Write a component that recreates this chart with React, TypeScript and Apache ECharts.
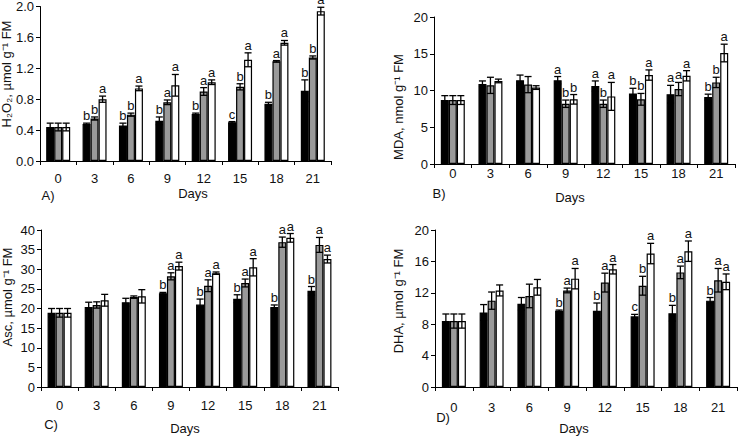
import React, { useEffect, useRef } from "react";
import * as echarts from "echarts";

// Sampling days (x categories shared by all four panels)
const days = ["0", "3", "6", "9", "12", "15", "18", "21"];

// A) H2O2, µmol g-1 FM
const h2o2Black = [0.44, 0.48, 0.46, 0.52, 0.61, 0.5, 0.74, 0.91];
const h2o2BlackErr = [0.05, 0.01, 0.03, 0.05, 0.01, 0.01, 0.02, 0.14];
const h2o2Gray = [0.44, 0.55, 0.6, 0.76, 0.9, 0.96, 1.29, 1.34];
const h2o2GrayErr = [0.05, 0.02, 0.02, 0.03, 0.05, 0.04, 0.01, 0.02];
const h2o2White = [0.44, 0.8, 0.94, 0.98, 1.02, 1.31, 1.53, 1.94];
const h2o2WhiteErr = [0.05, 0.04, 0.03, 0.14, 0.03, 0.09, 0.03, 0.05];
const h2o2BlackSig = ["", "b", "b", "b", "b", "c", "b", "b"];
const h2o2GraySig = ["", "b", "b", "a", "a", "b", "a", "b"];
const h2o2WhiteSig = ["", "a", "a", "a", "a", "a", "a", "a"];

// B) MDA, nmol g-1 FM
const mdaBlack = [8.7, 10.9, 11.4, 11.4, 10.6, 9.6, 9.5, 9.1];
const mdaBlackErr = [0.6, 0.4, 0.7, 0.5, 0.7, 0.7, 1.2, 0.4];
const mdaGray = [8.7, 10.7, 10.8, 8.2, 8.2, 8.8, 10.2, 11.1];
const mdaGrayErr = [0.6, 1.1, 1.1, 0.5, 0.5, 0.8, 0.9, 0.7];
const mdaWhite = [8.7, 11.3, 10.4, 8.8, 9.2, 12.1, 12.0, 15.1];
const mdaWhiteErr = [0.6, 0.25, 0.25, 0.65, 1.9, 0.7, 0.7, 1.2];
const mdaBlackSig = ["", "", "", "a", "a", "b", "a", "b"];
const mdaGraySig = ["", "", "", "b", "b", "b", "a", "b"];
const mdaWhiteSig = ["", "", "", "b", "a", "a", "a", "a"];

// C) Asc, µmol g-1 FM
const ascBlack = [18.9, 20.4, 21.6, 23.9, 21.0, 22.5, 20.4, 24.5];
const ascBlackErr = [1.1, 1.2, 1.0, 0.2, 1.4, 1.0, 0.5, 1.1];
const ascGray = [18.9, 20.9, 22.9, 28.2, 25.8, 26.5, 36.9, 36.2];
const ascGrayErr = [1.1, 0.8, 0.3, 0.9, 1.5, 1.0, 1.3, 1.9];
const ascWhite = [18.9, 22.1, 23.1, 30.8, 29.0, 30.5, 38.0, 32.6];
const ascWhiteErr = [1.1, 1.5, 1.7, 1.0, 0.3, 2.2, 1.1, 1.0];
const ascBlackSig = ["", "", "", "b", "b", "b", "b", "b"];
const ascGraySig = ["", "", "", "a", "a", "a", "a", "a"];
const ascWhiteSig = ["", "", "", "a", "a", "a", "a", "a"];

// D) DHA, µmol g-1 FM
const dhaBlack = [8.4, 9.5, 10.6, 9.7, 9.7, 9.0, 9.4, 11.0];
const dhaBlackErr = [0.9, 1.0, 0.8, 0.1, 1.0, 0.25, 1.0, 0.4];
const dhaGray = [8.4, 11.0, 11.6, 12.3, 13.3, 12.9, 14.6, 13.6];
const dhaGrayErr = [0.9, 1.1, 1.5, 0.3, 1.2, 1.2, 0.8, 1.5];
const dhaWhite = [8.4, 12.3, 12.7, 13.8, 15.0, 17.0, 17.3, 13.4];
const dhaWhiteErr = [0.9, 0.7, 1.0, 1.3, 0.6, 1.3, 1.3, 1.0];
const dhaBlackSig = ["", "", "", "b", "b", "c", "b", "b"];
const dhaGraySig = ["", "", "", "a", "a", "b", "a", "a"];
const dhaWhiteSig = ["", "", "", "a", "a", "a", "a", "a"];

const FONT = "'Liberation Sans', Arial, Helvetica, sans-serif";
const BAR_W = 8;
const INK = "#111111";

const FILLS = ["#000000", "#9a9a9a", "#ffffff"];

type Panel = {
  grid: { left: number; top: number; width: number; height: number };
  max: number;
  interval: number;
  decimals: number;
  labelMargin: number;
  values: number[][];
  errors: number[][];
  sig: string[][];
};

const panels: Panel[] = [
  {
    grid: { left: 40, top: 5, width: 291, height: 156 },
    max: 2,
    interval: 0.4,
    decimals: 1,
    labelMargin: 11,
    values: [h2o2Black, h2o2Gray, h2o2White],
    errors: [h2o2BlackErr, h2o2GrayErr, h2o2WhiteErr],
    sig: [h2o2BlackSig, h2o2GraySig, h2o2WhiteSig],
  },
  {
    grid: { left: 434, top: 17, width: 301, height: 147 },
    max: 20,
    interval: 5,
    decimals: 0,
    labelMargin: 3,
    values: [mdaBlack, mdaGray, mdaWhite],
    errors: [mdaBlackErr, mdaGrayErr, mdaWhiteErr],
    sig: [mdaBlackSig, mdaGraySig, mdaWhiteSig],
  },
  {
    grid: { left: 41, top: 230, width: 297, height: 157 },
    max: 40,
    interval: 5,
    decimals: 0,
    labelMargin: 12,
    values: [ascBlack, ascGray, ascWhite],
    errors: [ascBlackErr, ascGrayErr, ascWhiteErr],
    sig: [ascBlackSig, ascGraySig, ascWhiteSig],
  },
  {
    grid: { left: 435, top: 230, width: 302, height: 157 },
    max: 20,
    interval: 4,
    decimals: 0,
    labelMargin: 14,
    values: [dhaBlack, dhaGray, dhaWhite],
    errors: [dhaBlackErr, dhaGrayErr, dhaWhiteErr],
    sig: [dhaBlackSig, dhaGraySig, dhaWhiteSig],
  },
];

// Rotated y-axis titles, x-axis titles and panel tags
const yTitles = [
  { text: "H₂O₂, µmol g⁻¹ FM", x: 6, y: 74 },
  { text: "MDA, nmol g⁻¹ FM", x: 398, y: 107 },
  { text: "Asc, µmol g⁻¹ FM", x: 7, y: 297 },
  { text: "DHA, µmol g⁻¹ FM", x: 398, y: 301 },
];
const xTitles = [
  { text: "Days", x: 193, y: 193 },
  { text: "Days", x: 570, y: 197 },
  { text: "Days", x: 185, y: 428 },
  { text: "Days", x: 574, y: 428 },
];
const panelTags = [
  { text: "A)", x: 48, y: 195 },
  { text: "B)", x: 439, y: 193 },
  { text: "C)", x: 51, y: 424 },
  { text: "D)", x: 443, y: 417 },
];

function buildOption() {
  const grid: any[] = [];
  const xAxis: any[] = [];
  const yAxis: any[] = [];
  const series: any[] = [];

  panels.forEach((p, pi) => {
    grid.push({ ...p.grid, containLabel: false });
    xAxis.push({
      type: "category",
      gridIndex: pi,
      data: days,
      boundaryGap: true,
      axisLine: { lineStyle: { color: "#000", width: 1 } },
      axisTick: { show: true, length: 4, alignWithLabel: false, lineStyle: { color: "#000" } },
      axisLabel: { color: INK, fontSize: 13, fontFamily: FONT, margin: p.labelMargin, interval: 0 },
      splitLine: { show: false },
    });
    yAxis.push({
      type: "value",
      gridIndex: pi,
      min: 0,
      max: p.max,
      interval: p.interval,
      axisLine: { show: true, lineStyle: { color: "#000", width: 1 } },
      axisTick: { show: true, length: 4, lineStyle: { color: "#000" } },
      axisLabel: {
        color: INK,
        fontSize: 13,
        fontFamily: FONT,
        margin: 6,
        formatter: (v: number) => v.toFixed(p.decimals),
      },
      splitLine: { show: false },
    });

    p.values.forEach((vals, k) => {
      series.push({
        type: "bar",
        xAxisIndex: pi,
        yAxisIndex: pi,
        data: vals,
        barWidth: BAR_W,
        barGap: "0%",
        itemStyle: { color: FILLS[k], borderColor: "#000", borderWidth: 1.2 },
        z: 2,
      });
    });

    p.values.forEach((vals, k) => {
      const errs = p.errors[k];
      const sig = p.sig[k];
      const offset = (k - 1) * BAR_W;
      series.push({
        type: "custom",
        xAxisIndex: pi,
        yAxisIndex: pi,
        z: 5,
        data: vals.map((v, i) => [i, v, errs[i]]),
        renderItem: (params: any, api: any) => {
          const i = api.value(0);
          const v = api.value(1);
          const e = api.value(2);
          const top = api.coord([i, v + e]);
          const bot = api.coord([i, v - e]);
          const x = top[0] + offset;
          const cap = 3.5;
          const ls = { stroke: "#000", lineWidth: 1.3 };
          const children: any[] = [
            { type: "line", shape: { x1: x, y1: top[1], x2: x, y2: bot[1] }, style: ls },
            { type: "line", shape: { x1: x - cap, y1: top[1], x2: x + cap, y2: top[1] }, style: ls },
            { type: "line", shape: { x1: x - cap, y1: bot[1], x2: x + cap, y2: bot[1] }, style: ls },
          ];
          const letter = sig[params.dataIndex];
          if (letter) {
            children.push({
              type: "text",
              x: x,
              y: top[1] - 1,
              style: {
                text: letter,
                fill: INK,
                fontSize: 13,
                fontFamily: FONT,
                align: "center",
                verticalAlign: "bottom",
              },
            });
          }
          return { type: "group", children };
        },
      });
    });
  });

  const graphic: any[] = [];
  yTitles.forEach((t) =>
    graphic.push({
      type: "text",
      x: t.x,
      y: t.y,
      rotation: Math.PI / 2,
      style: {
        text: t.text,
        fill: INK,
        fontSize: 13,
        fontFamily: FONT,
        align: "center",
        verticalAlign: "middle",
      },
    })
  );
  [...xTitles, ...panelTags].forEach((t) =>
    graphic.push({
      type: "text",
      x: t.x,
      y: t.y,
      style: {
        text: t.text,
        fill: INK,
        fontSize: 13,
        fontFamily: FONT,
        align: "center",
        verticalAlign: "middle",
      },
    })
  );

  return {
    animation: false,
    backgroundColor: "#ffffff",
    grid,
    xAxis,
    yAxis,
    series,
    graphic,
  };
}

export default function App() {
  const ref = useRef<HTMLDivElement>(null);
  useEffect(() => {
    if (!ref.current) return;
    const chart = echarts.init(ref.current, undefined, { renderer: "svg" });
    chart.setOption(buildOption() as any);
    return () => chart.dispose();
  }, []);
  return (
    <div
      ref={ref}
      style={{ position: "fixed", left: 0, top: 0, width: 738, height: 437, background: "#fff" }}
    />
  );
}
